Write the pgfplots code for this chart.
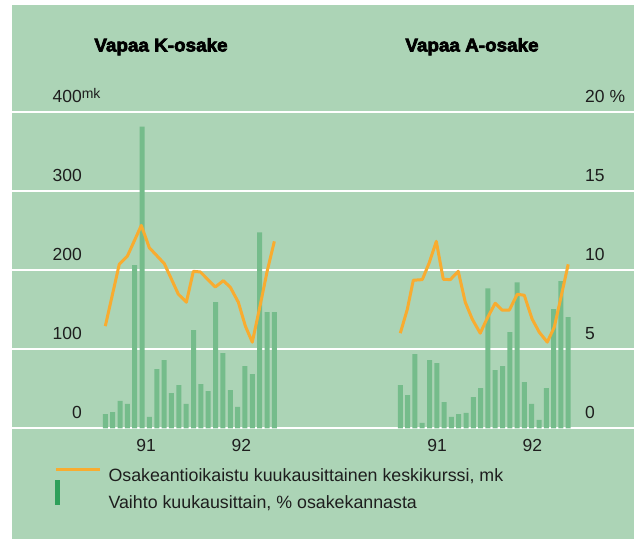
\documentclass[border=0pt]{standalone}
\usepackage{pgfplots}
\pgfplotsset{compat=1.18}
\usepackage{fontspec}
\setmainfont{Liberation Sans}
\newfontfamily\titlefont[FakeStretch=1.02,BoldFeatures={FakeBold=3.5}]{Liberation Sans}
\definecolor{bg}{HTML}{ACD4B6}
\definecolor{barg}{HTML}{75BC8B}
\definecolor{orng}{HTML}{F8AC30}
\definecolor{legg}{HTML}{2EA05A}
\definecolor{txt}{HTML}{1E1E1E}
\newcommand{\lbl}{\fontsize{17.5}{18}\selectfont}
\pgfplotsset{
  panel/.style={scale only axis, height=316pt, anchor=south west,
    xmin=0, xmax=25, axis line style={draw=none}, major tick length=0pt,
    ytick=\empty, clip=false,
    xticklabel style={anchor=base, inner sep=0pt, yshift=-22.7pt, font=\lbl, text=txt},
    /pgf/number format/assume math mode=true},
}
\begin{document}
\begin{tikzpicture}[x=1pt,y=1pt]
\useasboundingbox (0,0) rectangle (634,539);
\fill[white] (0,0) rectangle (634,539);
\fill[bg] (12,0) rectangle (634,534);

% background grid + left labels
\begin{axis}[at={(12pt,110.7pt)}, anchor=south west, scale only axis,
  width=622pt, height=316pt, xmin=0, xmax=1, ymin=0, ymax=400,
  xtick=\empty, ytick={0,100,200,300,400},
  yticklabels={0,100,200,300,{400\rlap{\raisebox{4.5pt}{\fontsize{14}{14}\selectfont mk}}}},
  ymajorgrids, grid style={white, line width=2pt},
  axis line style={draw=none}, major tick length=0pt,
  yticklabel style={anchor=base east, inner sep=0pt, xshift=70pt, yshift=9.5pt, font=\lbl, text=txt},
  /pgf/number format/assume math mode=true]
\end{axis}
% right labels
\begin{axis}[at={(12pt,110.7pt)}, anchor=south west, scale only axis,
  width=622pt, height=316pt, xmin=0, xmax=1, ymin=0, ymax=20,
  xtick=\empty, ytick={0,5,10,15,20}, yticklabels={0,5,10,15,20 \%},
  yticklabel pos=right,
  axis line style={draw=none}, major tick length=0pt,
  yticklabel style={anchor=base west, inner sep=0pt, xshift=-49pt, yshift=9.5pt, font=\lbl, text=txt},
  /pgf/number format/assume math mode=true]
\end{axis}

% left panel bars
\begin{axis}[panel, at={(97.95pt,110.7pt)}, width=183.75pt, ymin=0, ymax=20,
  xtick={6.54,19.5}, xticklabels={91,92}]
\addplot[ybar, bar width=5pt, fill=barg, draw=none] coordinates {
(1,0.9) (2,1.03) (3,1.73) (4,1.54) (5,10.32) (6,19.1) (7,0.72) (8,3.75)
(9,4.32) (10,2.23) (11,2.74) (12,1.54) (13,6.21) (14,2.8) (15,2.36) (16,7.98)
(17,4.76) (18,2.42) (19,1.35) (20,3.94) (21,3.43) (22,12.4) (23,7.35) (24,7.35)};
\end{axis}
% left panel line
\begin{axis}[panel, at={(97.95pt,110.7pt)}, width=183.75pt, ymin=0, ymax=400, hide axis]
\addplot[orng, line width=3pt, line join=round, no marks] coordinates {
(1,129.3) (2.9,207.6) (3.99,217.7) (5.9,256.8) (6.99,228.6) (9.03,208.4)
(10.94,169.7) (12.03,159.6) (12.98,198.7) (13.93,197.9) (15.97,178.9)
(17.06,186.9) (18.01,178.5) (19.1,159.6) (20.06,129.3) (21.0,109)
(22.1,157) (23.05,200) (24.0,236.6)};
\end{axis}

% right panel bars
\begin{axis}[panel, at={(393.0pt,110.7pt)}, width=182.5pt, ymin=0, ymax=20,
  xtick={6.03,19.1}, xticklabels={91,92}]
\addplot[ybar, bar width=5pt, fill=barg, draw=none] coordinates {
(1,2.74) (2,2.1) (3,4.69) (4,0.34) (5,4.32) (6,4.13) (7,1.66) (8,0.72)
(9,0.9) (10,0.97) (11,1.98) (12,2.55) (13,8.86) (14,3.68) (15,3.94) (16,6.08)
(17,9.24) (18,2.93) (19,1.54) (20,0.53) (21,2.55) (22,7.54) (23,9.31) (24,7.03)};
\end{axis}
% right panel line
\begin{axis}[panel, at={(393.0pt,110.7pt)}, width=182.5pt, ymin=0, ymax=400, hide axis]
\addplot[orng, line width=3pt, line join=round, no marks] coordinates {
(1,120.4) (1.96,150.7) (2.78,187.4) (4.01,188.2) (4.97,209.7) (5.93,236.6)
(6.89,188.6) (7.85,188.2) (8.94,198.7) (9.9,159.6) (10.86,138.1) (11.95,120.4)
(12.91,139.4) (14.0,158.3) (14.97,149.5) (15.92,149.5) (17.02,169.7) (17.98,168.4)
(19.07,138.1) (20.03,121.7) (21.13,109.1) (22.09,128) (23.04,167.2) (24.0,207.6)};
\end{axis}

% titles
\node[anchor=base, inner sep=0pt, text=black, font=\titlefont\bfseries\fontsize{18.5}{20}\selectfont] at (161,487.5) {Vapaa K-osake};
\node[anchor=base, inner sep=0pt, text=black, font=\titlefont\bfseries\fontsize{18.5}{20}\selectfont] at (472,487.5) {Vapaa A-osake};

% legend
\draw[orng, line width=3pt] (56,69.7) -- (100,69.7);
\fill[legg] (55,34) rectangle (60,59);
\node[anchor=base west, inner sep=0pt, text=txt, font=\fontsize{17.8}{20}\selectfont] at (108.3,57.3) {Osakeantioikaistu kuukausittainen keskikurssi, mk};
\node[anchor=base west, inner sep=0pt, text=txt, font=\fontsize{17.8}{20}\selectfont] at (108.3,31) {Vaihto kuukausittain, \% osakekannasta};
\end{tikzpicture}
\end{document}
